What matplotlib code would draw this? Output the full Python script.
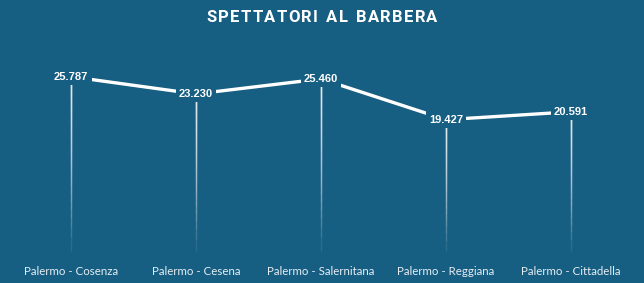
import matplotlib
matplotlib.use("Agg")
import matplotlib.pyplot as plt
import numpy as np

categories = ["Palermo - Cosenza", "Palermo - Cesena", "Palermo - Salernitana",
              "Palermo - Reggiana", "Palermo - Cittadella"]
spettatori = [25787, 23230, 25460, 19427, 20591]
title = "SPETTATORI AL BARBERA"

BG = "#165e82"
fig = plt.figure(figsize=(6.44, 2.83), dpi=100, facecolor=BG)
ax = fig.add_axes([8.5/644, 1-255/283, 625/644, (255-60)/283])
ax.set_facecolor(BG)
x = np.arange(len(categories))
ax.set_xlim(-0.5, len(categories) - 0.5)
ymin = 0
ax.set_ylim(-592, 28254)

# fading drop lines (stacked translucent lines -> smooth gradient)
layers = 24
for xi, yi in zip(x, spettatori):
    for k in range(layers):
        y0 = ymin + (yi - ymin) * (k / layers) ** 0.8
        ax.plot([xi, xi], [y0, yi], color="white", alpha=0.09, lw=1.0,
                solid_capstyle="butt", zorder=1)

ax.plot(x, spettatori, color="white", lw=2.4, zorder=2, solid_capstyle="butt")

for xi, yi in zip(x, spettatori):
    lab = f"{yi:,}".replace(",", ".")
    ax.text(xi, yi, lab, ha="center", va="center", color="white", fontsize=8,
            fontweight="bold", family="Liberation Sans", zorder=3,
            bbox=dict(boxstyle="square,pad=0.3", fc=BG, ec="none"))

ax.set_xticks(x)
ax.set_xticklabels(categories, color="#e6eef3", fontsize=8.3, family="Lato")
ax.tick_params(axis="x", length=0, pad=8)
ax.set_yticks([])
for s in ax.spines.values():
    s.set_visible(False)

# letter-spaced title
fig.canvas.draw()
renderer = fig.canvas.get_renderer()
tkw = dict(color="white", fontsize=12, fontweight="bold", family="Roboto", va="center", ha="left")
spacing = 1.3
widths = []
for ch in title:
    t = fig.text(0, 0, "n" if ch == " " else ch, **tkw)
    w = t.get_window_extent(renderer).width
    widths.append(w * 0.6 if ch == " " else w)
    t.remove()
total = sum(widths) + spacing * (len(title) - 1)
xpix = 322 - total / 2
for ch, w in zip(title, widths):
    if ch != " ":
        fig.text(xpix / 644, 1 - 18/283, ch, **tkw)
    xpix += w + spacing

fig.savefig("out.png", dpi=100, facecolor=BG)
